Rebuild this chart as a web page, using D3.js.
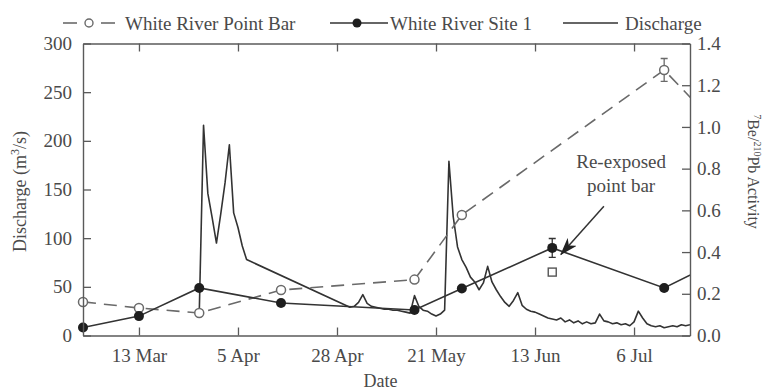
<!DOCTYPE html>
<html>
<head>
<meta charset="utf-8">
<script src="https://cdn.jsdelivr.net/npm/d3@7/dist/d3.min.js"></script>
<style>
  html, body { margin: 0; padding: 0; background: #fff; }
  svg { display: block; }
  text { font-family: "Liberation Serif", "Times New Roman", serif; fill: #4a4a4a; }
</style>
</head>
<body>
<svg id="chart" width="762" height="390"></svg>
<script>
// Sampling dates and activity ratios (7Be/210Pb) for the two White River sites
const pointBarDates = ["2011-02-28", "2011-03-13", "2011-03-27", "2011-04-15", "2011-05-16", "2011-05-27", "2011-07-13", "2011-07-21"];
const pointBarValues = [0.161, 0.132, 0.108, 0.218, 0.268, 0.578, 1.273, 1.10];
const pointBarErrors = [0, 0, 0, 0, 0, 0, 0.055, 0];

const site1Dates = ["2011-02-28", "2011-03-13", "2011-03-27", "2011-04-15", "2011-05-16", "2011-05-27", "2011-06-17", "2011-07-13", "2011-07-22"];
const site1Values = [0.038, 0.093, 0.228, 0.156, 0.122, 0.225, 0.42, 0.228, 0.32];
const site1Errors = [0, 0, 0, 0, 0, 0, 0.045, 0, 0];

// Re-exposed point bar sample
const reexposedDates = ["2011-06-17"];
const reexposedValues = [0.304];

// Daily discharge (m3/s)
const dischargeDates = [
  "2011-03-27", "2011-03-28", "2011-03-29", "2011-03-30", "2011-03-31",
  "2011-04-01", "2011-04-02", "2011-04-03", "2011-04-04", "2011-04-05",
  "2011-04-06", "2011-04-07",
  "2011-05-01", "2011-05-02", "2011-05-03", "2011-05-04", "2011-05-05",
  "2011-05-06", "2011-05-07", "2011-05-08", "2011-05-09", "2011-05-10",
  "2011-05-11", "2011-05-12", "2011-05-13", "2011-05-14", "2011-05-15",
  "2011-05-16", "2011-05-17", "2011-05-18", "2011-05-19", "2011-05-20",
  "2011-05-21", "2011-05-22", "2011-05-23", "2011-05-24", "2011-05-25",
  "2011-05-26", "2011-05-27", "2011-05-28", "2011-05-29", "2011-05-30",
  "2011-05-31", "2011-06-01", "2011-06-02", "2011-06-03", "2011-06-04",
  "2011-06-05", "2011-06-06", "2011-06-07", "2011-06-08", "2011-06-09",
  "2011-06-10", "2011-06-11", "2011-06-12", "2011-06-13", "2011-06-14",
  "2011-06-15", "2011-06-16", "2011-06-17", "2011-06-18", "2011-06-19",
  "2011-06-20", "2011-06-21", "2011-06-22", "2011-06-23", "2011-06-24",
  "2011-06-25", "2011-06-26", "2011-06-27", "2011-06-28", "2011-06-29",
  "2011-06-30", "2011-07-01", "2011-07-02", "2011-07-03", "2011-07-04",
  "2011-07-05", "2011-07-06", "2011-07-07", "2011-07-08", "2011-07-09",
  "2011-07-10", "2011-07-11", "2011-07-12", "2011-07-13", "2011-07-14",
  "2011-07-15", "2011-07-16", "2011-07-17", "2011-07-18", "2011-07-19"
];
const dischargeValues = [
  22, 216, 146, 121, 95,
  125, 157, 196, 126, 111,
  92, 78,
  29, 30, 34, 42, 33,
  30, 29, 28, 27, 27,
  26, 26, 25, 24, 23,
  41, 30, 26, 25, 22,
  20, 22, 26, 179, 122,
  91, 78, 70, 60, 55,
  47, 54, 71, 55, 47,
  40, 34, 30, 36, 44,
  31, 27, 25, 24, 22,
  20, 18, 17, 16, 18,
  14, 16, 13, 15, 12,
  14, 12, 13, 22, 15,
  14, 12, 13, 11, 12,
  10, 14, 25, 18, 12,
  10, 9, 10, 8, 9,
  10, 9, 11, 10, 11
];

// Axis ticks
const dateTicks = ["2011-03-13", "2011-04-05", "2011-04-28", "2011-05-21", "2011-06-13", "2011-07-06"];
const dischargeTicks = [0, 50, 100, 150, 200, 250, 300];
const activityTicks = [0, 0.2, 0.4, 0.6, 0.8, 1.0, 1.2, 1.4];

// Annotation: label anchor, arrow start and arrow tip (date, activity)
const noteLines = ["Re-exposed", "point bar"];
const noteAnchor = ["2011-07-03", 0.805];
const arrowFrom = ["2011-06-29", 0.62];
const arrowTo = ["2011-06-19", 0.388];

const parse = d3.utcParse("%Y-%m-%d");
const W = 762, H = 390;
const margin = { left: 83, right: 72, top: 43.5, bottom: 54.5 };
const iw = W - margin.left - margin.right;
const ih = H - margin.top - margin.bottom;

const svg = d3.select("#chart");
const axisColor = "#5a5a5a";
const lineColor = "#333";
const dashColor = "#6a6a6a";

const x = d3.scaleUtc()
  .domain([parse("2011-02-28"), parse("2011-07-19")])
  .range([margin.left, margin.left + iw]);
const yL = d3.scaleLinear().domain([0, 300]).range([margin.top + ih, margin.top]);
const yR = d3.scaleLinear().domain([0, 1.4]).range([margin.top + ih, margin.top]);

svg.append("defs").append("clipPath").attr("id", "plot-clip")
  .append("rect")
  .attr("x", margin.left).attr("y", margin.top)
  .attr("width", iw).attr("height", ih);

const plot = svg.append("g").attr("clip-path", "url(#plot-clip)");

// Discharge
const discharge = dischargeDates.map((d, i) => ({ date: parse(d), v: dischargeValues[i] }));
plot.append("path")
  .datum(discharge)
  .attr("fill", "none")
  .attr("stroke", lineColor)
  .attr("stroke-width", 1.6)
  .attr("stroke-linejoin", "round")
  .attr("d", d3.line().x(d => x(d.date)).y(d => yL(d.v)));

// Point bar (dashed)
const pointBar = pointBarDates.map((d, i) => ({ date: parse(d), v: pointBarValues[i], e: pointBarErrors[i] }));
plot.append("path")
  .datum(pointBar)
  .attr("fill", "none")
  .attr("stroke", dashColor)
  .attr("stroke-width", 1.6)
  .attr("stroke-dasharray", "13,8")
  .attr("d", d3.line().x(d => x(d.date)).y(d => yR(d.v)));

// Site 1 (solid)
const site1 = site1Dates.map((d, i) => ({ date: parse(d), v: site1Values[i], e: site1Errors[i] }));
plot.append("path")
  .datum(site1)
  .attr("fill", "none")
  .attr("stroke", lineColor)
  .attr("stroke-width", 1.6)
  .attr("d", d3.line().x(d => x(d.date)).y(d => yR(d.v)));

// Error bars
function errorBars(data, color) {
  const g = plot.append("g").attr("stroke", color).attr("stroke-width", 1.3);
  data.filter(d => d.e > 0).forEach(d => {
    const cx = x(d.date);
    g.append("line").attr("x1", cx).attr("x2", cx).attr("y1", yR(d.v - d.e)).attr("y2", yR(d.v + d.e));
    g.append("line").attr("x1", cx - 3.5).attr("x2", cx + 3.5).attr("y1", yR(d.v - d.e)).attr("y2", yR(d.v - d.e));
    g.append("line").attr("x1", cx - 3.5).attr("x2", cx + 3.5).attr("y1", yR(d.v + d.e)).attr("y2", yR(d.v + d.e));
  });
}
errorBars(pointBar, dashColor);
errorBars(site1, lineColor);

// Markers (unclipped so edge points stay round)
const markers = svg.append("g");
const inDomain = d => d.date >= x.domain()[0] && d.date <= x.domain()[1];
markers.selectAll("circle.pb").data(pointBar.filter(inDomain)).join("circle")
  .attr("class", "pb")
  .attr("cx", d => x(d.date)).attr("cy", d => yR(d.v)).attr("r", 4.5)
  .attr("fill", "#fff").attr("stroke", dashColor).attr("stroke-width", 1.5);
markers.selectAll("circle.s1").data(site1.filter(inDomain)).join("circle")
  .attr("class", "s1")
  .attr("cx", d => x(d.date)).attr("cy", d => yR(d.v)).attr("r", 5)
  .attr("fill", "#1e1e1e").attr("stroke", "none");

const reexposed = reexposedDates.map((d, i) => ({ date: parse(d), v: reexposedValues[i] }));
markers.selectAll("rect.rx").data(reexposed).join("rect")
  .attr("class", "rx")
  .attr("x", d => x(d.date) - 4).attr("y", d => yR(d.v) - 4)
  .attr("width", 8).attr("height", 8)
  .attr("fill", "#fff").attr("stroke", "#555").attr("stroke-width", 1.4);

// Axes, inward ticks, full frame
const tickDates = dateTicks.map(parse);
function styleAxis(g) {
  g.selectAll("path.domain").attr("stroke", axisColor).attr("stroke-width", 1.4);
  g.selectAll(".tick line").attr("stroke", axisColor).attr("stroke-width", 1.3);
  g.selectAll(".tick text").style("font-size", "19px").attr("fill", "#4a4a4a");
}
svg.append("g").attr("transform", `translate(0,${margin.top + ih})`)
  .call(d3.axisBottom(x).tickValues(tickDates).tickFormat(d3.utcFormat("%-d %b"))
    .tickSizeInner(-8).tickSizeOuter(0).tickPadding(13))
  .call(styleAxis).attr("font-family", null).attr("font-size", null);
svg.append("g").attr("transform", `translate(0,${margin.top})`)
  .call(d3.axisTop(x).tickValues(tickDates).tickFormat("")
    .tickSizeInner(-8).tickSizeOuter(0))
  .call(styleAxis);
svg.append("g").attr("transform", `translate(${margin.left},0)`)
  .call(d3.axisLeft(yL).tickValues(dischargeTicks).tickFormat(d3.format("d"))
    .tickSizeInner(-8).tickSizeOuter(0).tickPadding(11))
  .call(styleAxis).attr("font-family", null).attr("font-size", null);
svg.append("g").attr("transform", `translate(${margin.left + iw},0)`)
  .call(d3.axisRight(yR).tickValues(activityTicks).tickFormat(d3.format(".1f"))
    .tickSizeInner(-8).tickSizeOuter(0).tickPadding(7))
  .call(styleAxis).attr("font-family", null).attr("font-size", null);

// Axis titles
svg.append("text")
  .attr("transform", `translate(26,${margin.top + ih / 2 + 2}) rotate(-90)`)
  .attr("text-anchor", "middle").style("font-size", "18px")
  .html('Discharge (m<tspan dy="-7" style="font-size:12px">3</tspan><tspan dy="7">/s)</tspan>');
svg.append("text")
  .attr("transform", `translate(748,${margin.top + ih / 2 - 18}) rotate(90)`)
  .attr("text-anchor", "middle").style("font-size", "16px")
  .html('<tspan dy="-6" style="font-size:10px">7</tspan><tspan dy="6">Be/</tspan><tspan dy="-6" style="font-size:10px">210</tspan><tspan dy="6">Pb Activity</tspan>');
svg.append("text")
  .attr("x", margin.left + iw / 2 - 6).attr("y", 387)
  .attr("text-anchor", "middle").style("font-size", "18px")
  .text("Date");

// Annotation
const note = svg.append("text")
  .attr("x", x(parse(noteAnchor[0]))).attr("y", yR(noteAnchor[1]))
  .attr("text-anchor", "middle").style("font-size", "19px");
noteLines.forEach((t, i) => note.append("tspan")
  .attr("x", x(parse(noteAnchor[0]))).attr("dy", i === 0 ? 0 : 24).text(t));

svg.select("defs").append("marker")
  .attr("id", "arrowhead")
  .attr("viewBox", "0 0 18 12")
  .attr("refX", 17).attr("refY", 6)
  .attr("markerWidth", 18).attr("markerHeight", 12)
  .attr("markerUnits", "userSpaceOnUse")
  .attr("orient", "auto")
  .append("path")
  .attr("d", "M0,0 L18,6 L0,12 L5,6 Z")
  .attr("fill", "#222");
svg.append("line")
  .attr("x1", x(parse(arrowFrom[0]))).attr("y1", yR(arrowFrom[1]))
  .attr("x2", x(parse(arrowTo[0]))).attr("y2", yR(arrowTo[1]))
  .attr("stroke", "#333").attr("stroke-width", 1.5)
  .attr("marker-end", "url(#arrowhead)");

// Legend
const legend = svg.append("g");
const ly = 23;
legend.append("line").attr("x1", 63).attr("x2", 77).attr("y1", ly).attr("y2", ly)
  .attr("stroke", dashColor).attr("stroke-width", 1.6);
legend.append("circle").attr("cx", 89).attr("cy", ly).attr("r", 4)
  .attr("fill", "#fff").attr("stroke", dashColor).attr("stroke-width", 1.4);
legend.append("line").attr("x1", 101).attr("x2", 115).attr("y1", ly).attr("y2", ly)
  .attr("stroke", dashColor).attr("stroke-width", 1.6);
legend.append("text").attr("x", 125).attr("y", 30).style("font-size", "19px").text("White River Point Bar");

legend.append("line").attr("x1", 330).attr("x2", 388).attr("y1", ly).attr("y2", ly)
  .attr("stroke", lineColor).attr("stroke-width", 1.6);
legend.append("circle").attr("cx", 357).attr("cy", ly).attr("r", 4.5).attr("fill", "#1e1e1e");
legend.append("text").attr("x", 390).attr("y", 30).style("font-size", "19px").text("White River Site 1");

legend.append("line").attr("x1", 563).attr("x2", 618).attr("y1", ly).attr("y2", ly)
  .attr("stroke", lineColor).attr("stroke-width", 1.6);
legend.append("text").attr("x", 625).attr("y", 30).style("font-size", "19px").text("Discharge");
</script>
</body>
</html>
